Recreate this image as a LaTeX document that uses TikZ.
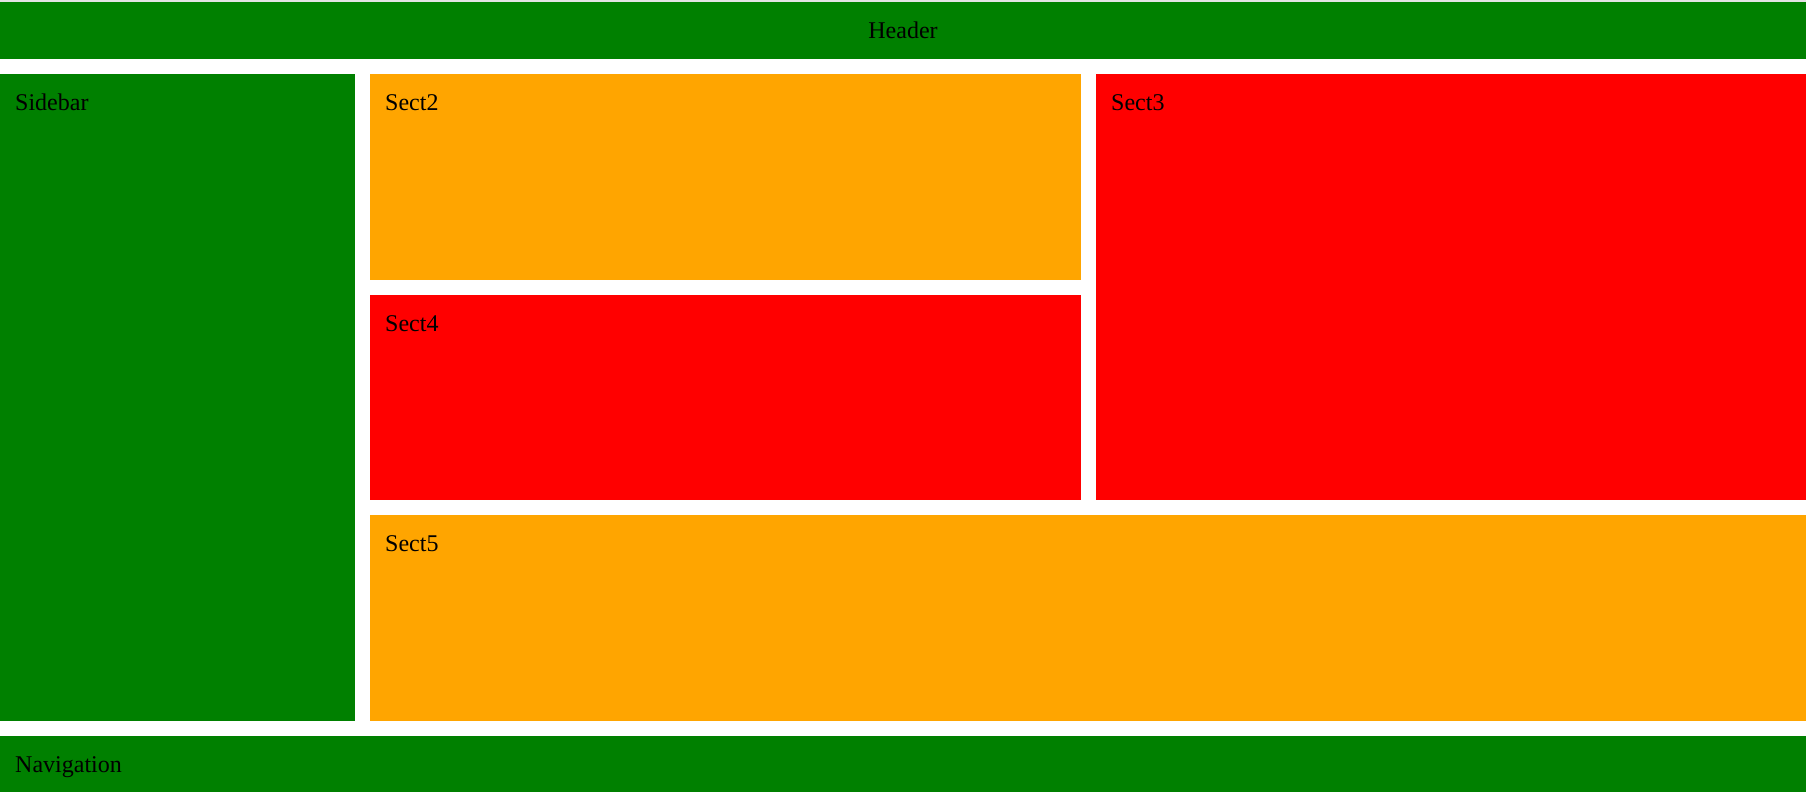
\documentclass[tikz,border=0pt]{standalone}
\usepackage{fontspec}
\setmainfont{Liberation Serif}
\definecolor{webgreen}{HTML}{008000}
\definecolor{weborange}{HTML}{FFA500}
\definecolor{webred}{HTML}{FF0000}
\definecolor{topstrip}{HTML}{E3E3E3}
\begin{document}
\begin{tikzpicture}[x=1pt, y=-1pt, font=\fontsize{24}{28}\selectfont,
  area/.style={draw=none, inner sep=0pt, outer sep=0pt, anchor=north west},
  lbl/.style={inner sep=0pt, anchor=base west}]
  \useasboundingbox (0,0) rectangle (1806,792);
  \fill[white] (0,0) rectangle (1806,792);
  \fill[topstrip] (0,0) rectangle (1806,2);
  \node[area, fill=webgreen, minimum width=1806pt, minimum height=57pt] (header) at (0,2) {};
  \node[area, fill=webgreen, minimum width=355pt, minimum height=647pt] (sidebar) at (0,74) {};
  \node[area, fill=weborange, minimum width=711pt, minimum height=206pt] (sect2) at (370,74) {};
  \node[area, fill=webred, minimum width=710pt, minimum height=426pt] (sect3) at (1096,74) {};
  \node[area, fill=webred, minimum width=711pt, minimum height=205pt] (sect4) at (370,295) {};
  \node[area, fill=weborange, minimum width=1436pt, minimum height=206pt] (sect5) at (370,515) {};
  \node[area, fill=webgreen, minimum width=1806pt, minimum height=56pt] (nav) at (0,736) {};
  \node[inner sep=0pt, anchor=base] (headertxt) at ([yshift=-36pt]header.north) {Header};
  \node[lbl] (sidebartxt) at ([shift={(15,36)}]sidebar.north west) {Sidebar};
  \node[lbl] (sect2txt) at ([shift={(15,36)}]sect2.north west) {Sect2};
  \node[lbl] (sect3txt) at ([shift={(15,36)}]sect3.north west) {Sect3};
  \node[lbl] (sect4txt) at ([shift={(15,36)}]sect4.north west) {Sect4};
  \node[lbl] (sect5txt) at ([shift={(15,36)}]sect5.north west) {Sect5};
  \node[lbl] (navtxt) at ([shift={(15,36)}]nav.north west) {Navigation};
\end{tikzpicture}
\end{document}
